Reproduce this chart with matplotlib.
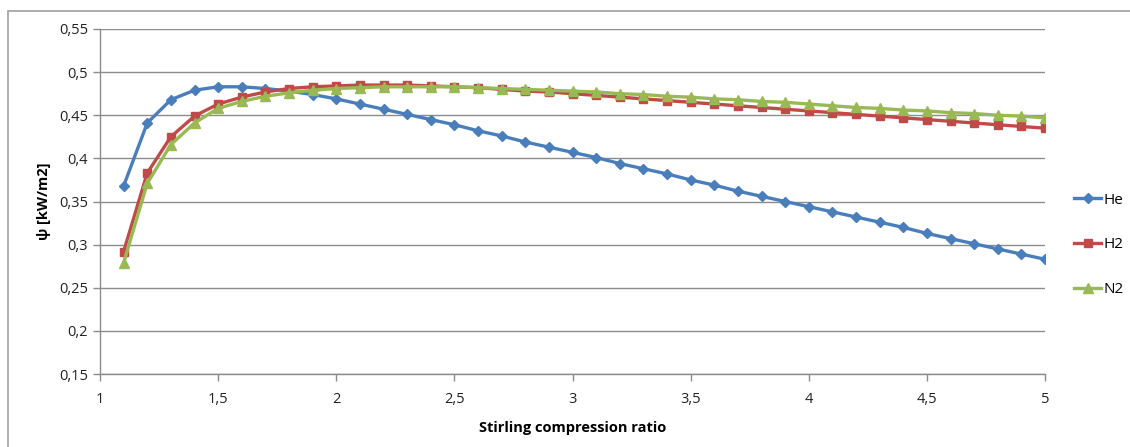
import matplotlib
matplotlib.use("Agg")
import matplotlib.pyplot as plt
from matplotlib.patches import Rectangle
from matplotlib.ticker import FuncFormatter

ratio = [1.1, 1.2, 1.3, 1.4, 1.5, 1.6, 1.7, 1.8, 1.9, 2.0,
         2.1, 2.2, 2.3, 2.4, 2.5, 2.6, 2.7, 2.8, 2.9, 3.0,
         3.1, 3.2, 3.3, 3.4, 3.5, 3.6, 3.7, 3.8, 3.9, 4.0,
         4.1, 4.2, 4.3, 4.4, 4.5, 4.6, 4.7, 4.8, 4.9, 5.0]

he = [0.368, 0.441, 0.468, 0.479, 0.483, 0.483, 0.481, 0.478, 0.474, 0.469,
      0.463, 0.457, 0.451, 0.445, 0.439, 0.432, 0.426, 0.419, 0.413, 0.407,
      0.401, 0.394, 0.388, 0.382, 0.375, 0.369, 0.362, 0.356, 0.350, 0.344,
      0.338, 0.332, 0.326, 0.320, 0.313, 0.307, 0.301, 0.295, 0.289, 0.283]

h2 = [0.292, 0.383, 0.425, 0.449, 0.463, 0.471, 0.477, 0.481, 0.483, 0.484,
      0.485, 0.485, 0.485, 0.484, 0.483, 0.482, 0.480, 0.478, 0.477, 0.475,
      0.473, 0.471, 0.469, 0.467, 0.465, 0.463, 0.461, 0.459, 0.457, 0.455,
      0.453, 0.451, 0.449, 0.447, 0.445, 0.443, 0.441, 0.439, 0.437, 0.435]

n2 = [0.279, 0.371, 0.416, 0.441, 0.458, 0.466, 0.472, 0.476, 0.479, 0.481,
      0.482, 0.483, 0.483, 0.483, 0.483, 0.482, 0.481, 0.480, 0.479, 0.478,
      0.477, 0.475, 0.474, 0.472, 0.471, 0.469, 0.468, 0.466, 0.465, 0.463,
      0.461, 0.459, 0.458, 0.456, 0.455, 0.453, 0.452, 0.450, 0.449, 0.447]

x_ticks = [1, 1.5, 2, 2.5, 3, 3.5, 4, 4.5, 5]
y_ticks = [0.15, 0.2, 0.25, 0.3, 0.35, 0.4, 0.45, 0.5, 0.55]

plt.rcParams["font.family"] = ["Open Sans", "DejaVu Sans"]

fig = plt.figure(figsize=(11.30, 4.47), dpi=100)
ax = fig.add_axes([100 / 1130, 1 - 374 / 447, 945 / 1130, 345 / 447])

# chart border (Excel style)
fig.patches.append(Rectangle((8 / 1130, -0.1), 1.2, 1 - 11 / 447 + 0.1,
                             transform=fig.transFigure, fill=False,
                             edgecolor="#a0a0a0", linewidth=1.2))

series = [("He", he, "#4a7ebb", "D", 5),
          ("H2", h2, "#be4b48", "s", 6),
          ("N2", n2, "#98b954", "^", 7)]
for name, vals, col, mk, ms in series:
    ax.plot(ratio, vals, color=col, linewidth=2.4, marker=mk, markersize=ms,
            label=name, solid_joinstyle="round")

ax.set_xlim(1, 5)
ax.set_ylim(0.15, 0.55)
ax.set_xticks(x_ticks)
ax.set_yticks(y_ticks)
fmt = FuncFormatter(lambda v, p: ("%g" % round(v, 2)).replace(".", ","))
ax.xaxis.set_major_formatter(fmt)
ax.yaxis.set_major_formatter(fmt)

ax.grid(axis="y", color="#8c8c8c", linewidth=1.0)
ax.set_axisbelow(True)
for s in ["top", "right"]:
    ax.spines[s].set_visible(False)
for s in ["left", "bottom"]:
    ax.spines[s].set_color("#8c8c8c")
    ax.spines[s].set_linewidth(1.0)
ax.tick_params(axis="both", colors="#8c8c8c", length=5, width=1.0,
               labelsize=10.5, labelcolor="#222222")
ax.tick_params(axis="x", pad=8)

ax.set_xlabel("Stirling compression ratio", fontsize=10.5, fontweight="bold",
              labelpad=10)
ax.set_ylabel("\u03c8 [kW/m2]", fontsize=10.5, fontweight="bold", labelpad=6)

ax.legend(loc="center left", bbox_to_anchor=(1.016, 0.374), frameon=False,
          fontsize=11, handlelength=1.8, labelspacing=1.95, handletextpad=0.15)

fig.savefig("out.png", dpi=100)
